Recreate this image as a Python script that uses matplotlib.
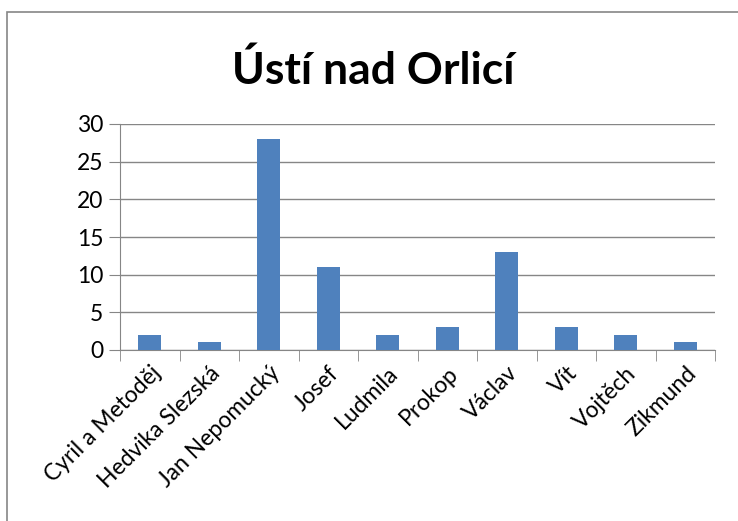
import matplotlib
matplotlib.use("Agg")
import matplotlib.pyplot as plt
from matplotlib.patches import Rectangle

categories = ["Cyril a Metoděj", "Hedvika Slezská", "Jan Nepomucký", "Josef", "Ludmila",
              "Prokop", "Václav", "Vít", "Vojtěch", "Zikmund"]
values = [2, 1, 28, 11, 2, 3, 13, 3, 2, 1]
yticks = [0, 5, 10, 15, 20, 25, 30]

plt.rcParams['font.family'] = ['Lato', 'DejaVu Sans']
grey = '#868686'

fig = plt.figure(figsize=(7.38, 5.21), dpi=100)
# outer chart border
fig.patches.append(Rectangle((7 / 738, -0.1), 1.2, (521 - 12) / 521 + 0.1,
                             transform=fig.transFigure, fill=False,
                             edgecolor=grey, linewidth=1.2))

ax = fig.add_axes([120 / 738, 1 - 350 / 521, (715 - 120) / 738, (350 - 124) / 521])
x = list(range(len(categories)))
ax.bar(x, values, width=0.39, color='#4f81bd', zorder=3)

ax.set_xlim(-0.5, len(categories) - 0.5)
ax.set_ylim(0, 30)
ax.set_yticks(yticks)
ax.yaxis.grid(True, color=grey, linewidth=1)
ax.tick_params(axis='y', length=8, color=grey, labelsize=16.5, pad=4)

ax.set_xticks(x)
ax.set_xticklabels(categories, rotation=45, ha='right', rotation_mode='anchor', fontsize=16.5)
ax.set_xticks([i - 0.5 for i in range(len(categories) + 1)], minor=True)
ax.tick_params(axis='x', which='major', length=0, pad=9)
ax.tick_params(axis='x', which='minor', length=8, color=grey)

for s in ['top', 'right']:
    ax.spines[s].set_visible(False)
for s in ['left', 'bottom']:
    ax.spines[s].set_color(grey)

fig.text(0.506, 1 - 70 / 521, "Ústí nad Orlicí", ha='center', va='center',
         fontsize=32, fontweight='bold')

fig.savefig("out.png", dpi=100)
